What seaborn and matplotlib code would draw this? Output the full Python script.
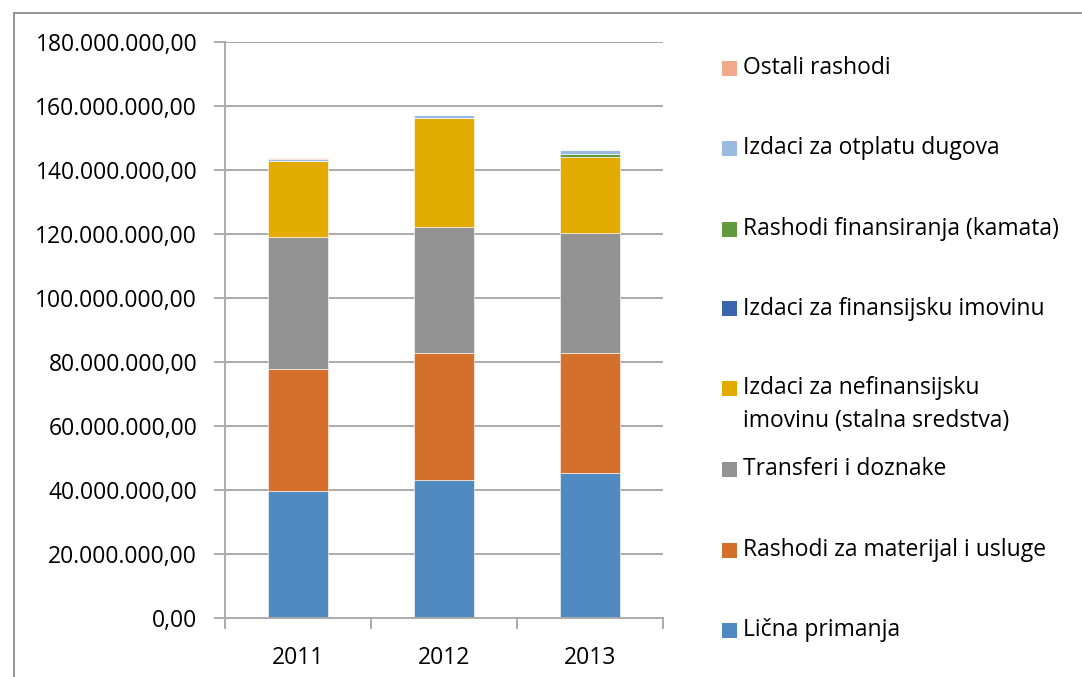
import matplotlib
matplotlib.use("Agg")
import matplotlib.pyplot as plt
from matplotlib.patches import Rectangle
from matplotlib.lines import Line2D
from matplotlib.ticker import FuncFormatter, FixedLocator
import seaborn as sns
import numpy as np

# Budget expenditures by year (in KM), stacked by category
years = ["2011", "2012", "2013"]

licna_primanja = [39.8e6, 43.2e6, 45.2e6]
materijal_usluge = [38.0e6, 39.7e6, 37.7e6]
transferi = [41.2e6, 39.4e6, 37.5e6]
nefinansijska_imovina = [23.7e6, 33.9e6, 23.8e6]
finansijska_imovina = [0.0, 0.0, 0.0]
kamata = [0.0, 0.2e6, 0.8e6]
otplata_dugova = [0.7e6, 0.9e6, 1.25e6]
ostali_rashodi = [0.4e6, 0.0, 0.0]

series_labels = [
    "Lična primanja",
    "Rashodi za materijal i usluge",
    "Transferi i doznake",
    "Izdaci za nefinansijsku\nimovinu (stalna sredstva)",
    "Izdaci za finansijsku imovinu",
    "Rashodi finansiranja (kamata)",
    "Izdaci za otplatu dugova",
    "Ostali rashodi",
]
series_values = [
    licna_primanja, materijal_usluge, transferi, nefinansijska_imovina,
    finansijska_imovina, kamata, otplata_dugova, ostali_rashodi,
]
colors = ["#508AC0", "#D56F2C", "#939393", "#E3AA00",
          "#3A64AE", "#629A3E", "#9ABBE0", "#F1A88B"]

sns.set_theme(style="white")
plt.rcParams["font.family"] = ["Open Sans", "DejaVu Sans"]

W, H = 1082, 677
fig = plt.figure(figsize=(W / 100, H / 100), dpi=100)

# axes box in pixel coordinates
ax_l, ax_r, ax_t, ax_b = 225, 663, 42, 618
ax = fig.add_axes([ax_l / W, 1 - ax_b / H, (ax_r - ax_l) / W, (ax_b - ax_t) / H])

grid_c = "#ABABAB"
bottom = np.zeros(len(years))
for vals, c in zip(series_values, colors):
    sns.barplot(x=years, y=vals, bottom=bottom, color=c, width=0.41,
                edgecolor="#FFFFFF", linewidth=0.4, saturation=1, ax=ax)
    bottom = bottom + np.array(vals)

ax.set_xlim(-0.5, 2.5)
ax.set_ylim(0, 180e6)
ax.set_yticks(np.arange(0, 180e6 + 1, 20e6))
ax.yaxis.set_major_formatter(FuncFormatter(
    lambda v, p: f"{v:,.2f}".replace(",", "X").replace(".", ",").replace("X", ".")))
ax.grid(axis="y", color=grid_c, linewidth=1.4)
ax.set_axisbelow(True)
ax.set_xlabel("")
ax.set_ylabel("")

for s in ["top", "right"]:
    ax.spines[s].set_visible(False)
for s in ["left", "bottom"]:
    ax.spines[s].set_color(grid_c)
    ax.spines[s].set_linewidth(1.4)

fs = 16.5
ax.tick_params(axis="y", which="major", left=True, length=8, width=1.4,
               color=grid_c, labelsize=fs, labelcolor="black", pad=12)
ax.tick_params(axis="x", which="major", bottom=False, labelsize=fs,
               labelcolor="black", pad=14)
ax.xaxis.set_minor_locator(FixedLocator([-0.5, 0.5, 1.5, 2.5]))
ax.tick_params(axis="x", which="minor", bottom=True, length=8, width=1.4,
               color=grid_c)

# legend drawn on the figure, entries placed along the right side
sq = 15
legend_x = 722
text_x = 743
entries = [
    (7, 68, None),
    (6, 148, None),
    (5, 229, None),
    (4, 309, None),
    (3, 388, 404.5),
    (2, 469, None),
    (1, 550, None),
    (0, 630, None),
]
for idx, ymark, ytext in entries:
    fig.patches.append(Rectangle(((legend_x) / W, 1 - (ymark + sq / 2) / H),
                                 sq / W, sq / H, transform=fig.transFigure,
                                 facecolor=colors[idx], edgecolor="none"))
    ty = ymark if ytext is None else ytext
    fig.text(text_x / W, 1 - ty / H, series_labels[idx], fontsize=fs,
             va="center", ha="left", color="black", linespacing=1.5)

# outer chart border (top and left edges)
fig.lines.append(Line2D([14 / W, 1.0], [1 - 13 / H, 1 - 13 / H],
                        transform=fig.transFigure, color="#8C8C8C", linewidth=1.3))
fig.lines.append(Line2D([14 / W, 14 / W], [0.0, 1 - 13 / H],
                        transform=fig.transFigure, color="#8C8C8C", linewidth=1.3))

fig.savefig("out.png", dpi=100, facecolor="white")
